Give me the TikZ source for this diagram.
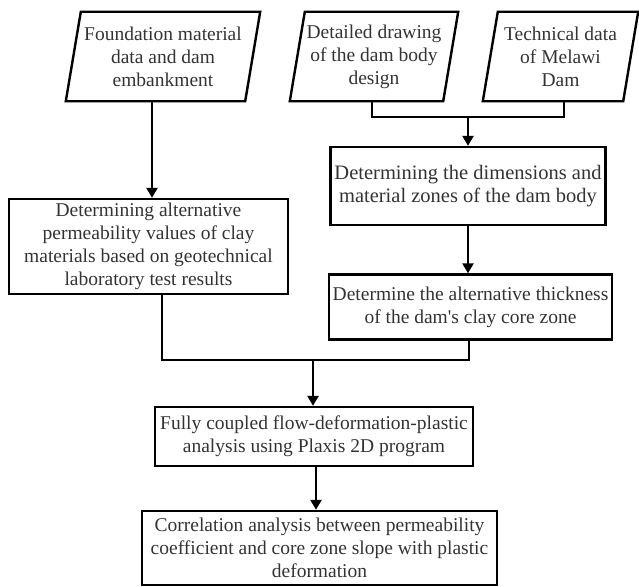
\documentclass[tikz,border=0pt]{standalone}
\usepackage{fontspec}
\setmainfont{Liberation Serif}
\usetikzlibrary{arrows.meta,calc}
\newcommand{\fsz}{\fontsize{19.5pt}{23pt}\selectfont}
\newcommand{\fszb}{\fontsize{20.5pt}{23pt}\selectfont}
\tikzset{
  lw/.style={line width=2.4pt},
  box/.style={draw, lw, inner sep=0pt, align=center, font=\fsz, text=black!80},
  iobox/.style={inner sep=0pt, align=center, font=\fsz, text=black!80},
  arr/.style={lw, -{Triangle[length=10pt,width=11pt]}},
  ln/.style={lw}
}
\begin{document}
\begin{tikzpicture}[x=1pt,y=-1pt]
\useasboundingbox (0,0) rectangle (639,586);
% input parallelograms (text frames)
\node[iobox, minimum width=194pt, minimum height=89pt] (p1) at (163,56.5)
  {Foundation material\\data and dam\\embankment};
\node[iobox, minimum width=168pt, minimum height=89pt] (p2) at (374,56.5)
  {Detailed drawing\\of the dam body\\design};
\node[iobox, minimum width=155pt, minimum height=89pt] (p3) at (560.5,56.5)
  {Technical data\\of Melawi\\Dam};
\foreach \p in {p1,p2,p3}{
  \draw[ln] ([xshift=15pt]\p.north west) -- (\p.north east)
    -- ([xshift=-15pt]\p.south east) -- (\p.south west) -- cycle;
}
% process boxes
\node[box, minimum width=279pt, minimum height=95pt] (b2) at (148.5,246.5)
  {Determining alternative\\permeability values of clay\\materials based on geotechnical\\laboratory test results};
\node[box, font=\fszb, minimum width=275pt, minimum height=78pt] (b3) at (468,186)
  {Determining the dimensions and\\material zones of the dam body};
\node[box, minimum width=283pt, minimum height=65pt] (b4) at (470.5,307)
  {Determine the alternative thickness\\of the dam\textquotesingle s clay core zone};
\node[box, minimum width=318pt, minimum height=59pt] (b5) at (314,436.5)
  {Fully coupled flow-deformation-plastic\\analysis using Plaxis 2D program};
\node[box, minimum width=355pt, minimum height=74pt] (b6) at (319.5,548)
  {Correlation analysis between permeability\\coefficient and core zone slope with plastic\\deformation};
% junctions
\coordinate (jR) at (468,117);
\coordinate (jL) at (313,360);
% connectors
\draw[arr] ([xshift=-11pt]p1.south) -- ([xshift=-11pt]p1.south |- b2.north);
\draw[ln] ([xshift=-2pt]p2.south) |- (jR);
\draw[ln] ([xshift=3.5pt]p3.south) |- (jR);
\draw[arr] (jR) -- (jR |- b3.north);
\draw[arr] (b3.south) -- (b3.south |- b4.north);
\draw[ln] ([xshift=13.5pt]b2.south) |- (jL);
\draw[ln] ([xshift=-1.5pt]b4.south) |- (jL);
\draw[arr] (jL) -- (jL |- b5.north);
\draw[arr] ([xshift=2pt]b5.south) -- ([xshift=2pt]b5.south |- b6.north);
\end{tikzpicture}
\end{document}
